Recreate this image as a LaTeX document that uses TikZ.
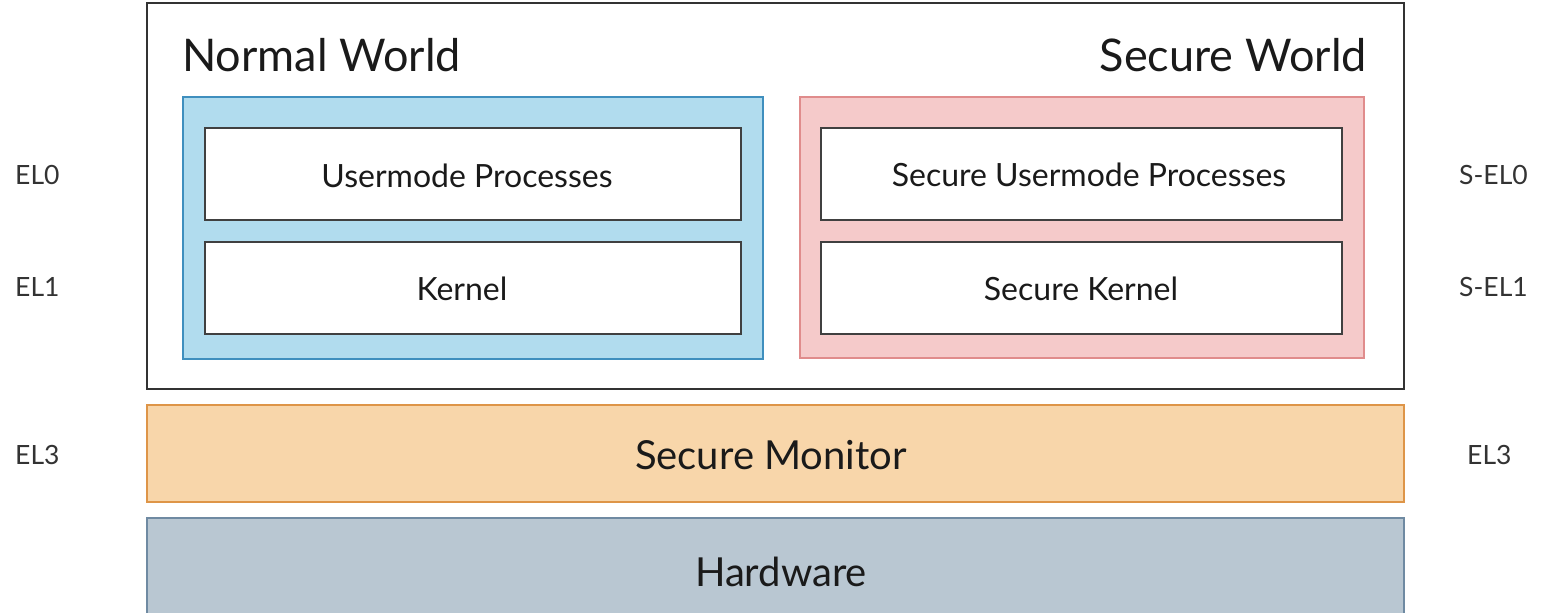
\documentclass[tikz,border=0pt]{standalone}
\usepackage{fontspec}
\setmainfont{Lato}
\definecolor{nwfill}{HTML}{B1DCEE}
\definecolor{nwline}{HTML}{3F8FBE}
\definecolor{swfill}{HTML}{F5CACA}
\definecolor{swline}{HTML}{E08C8C}
\definecolor{smfill}{HTML}{F8D6AA}
\definecolor{smline}{HTML}{DE9548}
\definecolor{hwfill}{HTML}{B9C7D2}
\definecolor{hwline}{HTML}{6F8AA2}
\definecolor{txt}{HTML}{1A1A1A}
\definecolor{lbl}{HTML}{333333}
\tikzset{
  layer/.style={draw=black!75, line width=1.3pt, fill=white, inner sep=0pt},
  title/.style={font=\fontsize{45}{52}\selectfont, text=txt, inner sep=0pt},
  boxtext/.style={font=\fontsize{32}{38}\selectfont, text=txt},
  bigtext/.style={font=\fontsize{40}{46}\selectfont, text=txt},
  ellabel/.style={font=\fontsize{26.5}{30}\selectfont, text=lbl, inner sep=0pt},
}
\begin{document}
\begin{tikzpicture}[x=1pt,y=-1pt]
\useasboundingbox (0,0) rectangle (1550,613);
% software stack enclosure
\draw[draw=black!80, line width=1.3pt] (147,3) rectangle (1404,389);
\node[title, anchor=base west] (nwt) at (182,71) {Normal World};
\node[title, anchor=base east] (swt) at (1367,71) {Secure World};
% normal world
\draw[draw=nwline, fill=nwfill, line width=1.2pt] (183,97) rectangle (763,359);
\draw[layer] (205,128) rectangle (741,220);
\node[boxtext] (ump) at (467,176) {Usermode Processes};
\draw[layer] (205,242) rectangle (741,334);
\node[boxtext] (kern) at (462,289) {Kernel};
% secure world
\draw[draw=swline, fill=swfill, line width=1.2pt] (800,97) rectangle (1364,358);
\draw[layer] (821,128) rectangle (1342,220);
\node[boxtext] (sump) at (1089,175) {Secure Usermode Processes};
\draw[layer] (821,242) rectangle (1342,334);
\node[boxtext] (skern) at (1081,289) {Secure Kernel};
% monitor and hardware
\draw[draw=smline, fill=smfill, line width=1.2pt] (147,405) rectangle (1404,502);
\node[bigtext] (mon) at (771,455) {Secure Monitor};
\draw[draw=hwline, fill=hwfill, line width=1.2pt] (147,518) rectangle (1404,620);
\node[bigtext] (hw) at (781,572) {Hardware};
% exception levels
\node[ellabel, anchor=west] (el0) at (15,175) {EL0};
\node[ellabel, anchor=west] (el1) at (15,287) {EL1};
\node[ellabel, anchor=west] (el3) at (15,455) {EL3};
\node[ellabel, anchor=west] (sel0) at (1459,175) {S-EL0};
\node[ellabel, anchor=west] (sel1) at (1459,287) {S-EL1};
\node[ellabel, anchor=west] (sel3) at (1467,455) {EL3};
\end{tikzpicture}
\end{document}
